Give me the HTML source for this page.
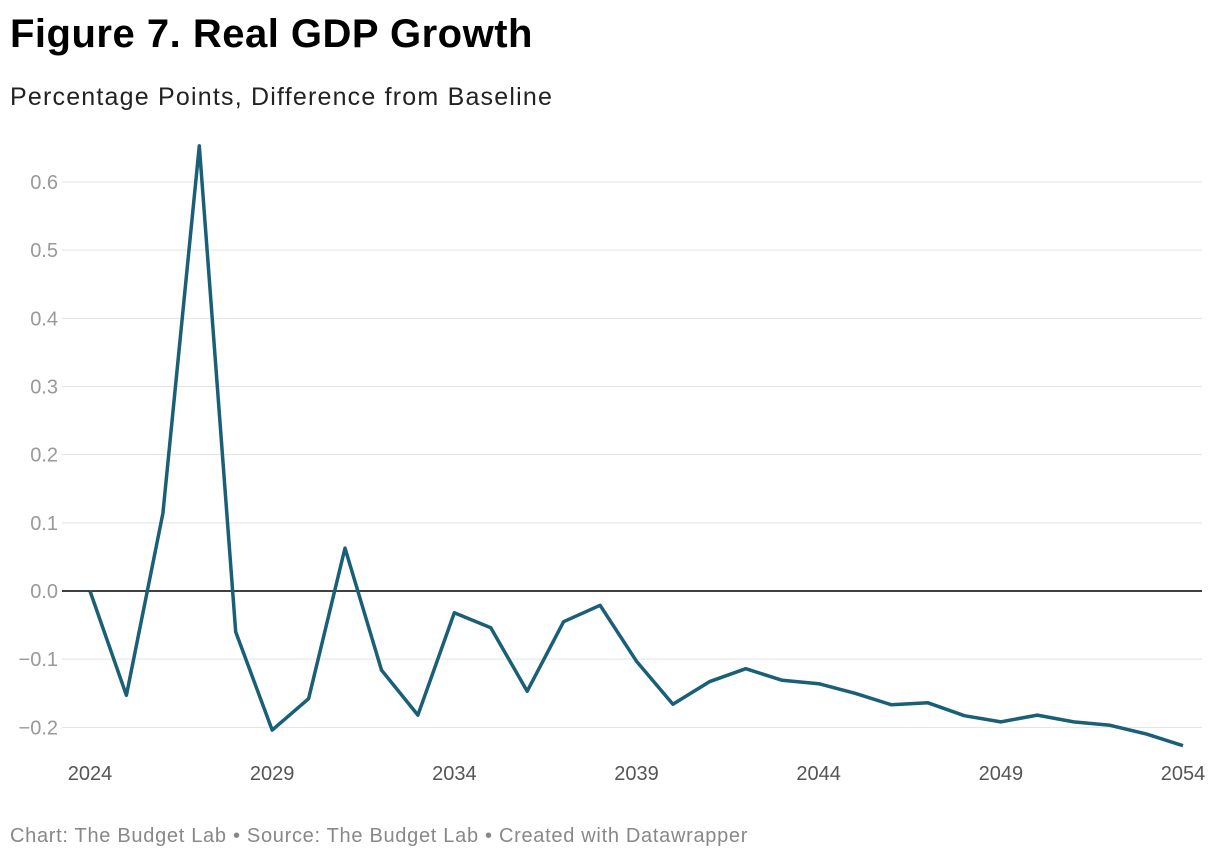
<!DOCTYPE html>
<html><head><meta charset="utf-8">
<style>
body{margin:0;background:#fff;font-family:"Liberation Sans",Arial,sans-serif;}
#wrap{position:relative;width:1220px;height:862px;overflow:hidden;}
h1{position:absolute;left:10px;top:12px;margin:0;font-size:40px;font-weight:bold;color:#000;letter-spacing:0.5px;}
.sub{position:absolute;left:10px;top:83px;font-size:25px;color:#222;letter-spacing:1.2px;}
.foot{position:absolute;left:10px;top:825px;font-size:20px;color:#888;letter-spacing:0.7px;}
svg{position:absolute;left:0;top:0;}
</style></head><body>
<div id="wrap">
<h1>Figure 7. Real GDP Growth</h1>
<div class="sub">Percentage Points, Difference from Baseline</div>
<svg id="chart" width="1220" height="862"></svg>
<div class="foot">Chart: The Budget Lab • Source: The Budget Lab • Created with Datawrapper</div>
</div>
<script>
const years=[2024,2025,2026,2027,2028,2029,2030,2031,2032,2033,2034,2035,2036,2037,2038,2039,2040,2041,2042,2043,2044,2045,2046,2047,2048,2049,2050,2051,2052,2053,2054];
const values=[0,-0.153,0.114,0.653,-0.06,-0.204,-0.158,0.063,-0.116,-0.182,-0.032,-0.054,-0.147,-0.045,-0.021,-0.103,-0.166,-0.133,-0.114,-0.131,-0.136,-0.15,-0.167,-0.164,-0.183,-0.192,-0.182,-0.192,-0.197,-0.21,-0.227];
const yTicks=[0.6,0.5,0.4,0.3,0.2,0.1,0,-0.1,-0.2];
const yTickLabels=["0.6","0.5","0.4","0.3","0.2","0.1","0.0","\u22120.1","\u22120.2"];
const xTicks=[2024,2029,2034,2039,2044,2049,2054];

const svg=document.getElementById('chart');
const NS='http://www.w3.org/2000/svg';
const x=v=>90+(v-2024)*(1183-90)/30;
const y=v=>591-v*(591-182)/0.6;
function mk(t,a){const e=document.createElementNS(NS,t);for(const k in a)e.setAttribute(k,a[k]);svg.appendChild(e);return e;}
yTicks.forEach((t,i)=>{
  const g=mk('line',{x1:62,x2:1202,y1:y(t),y2:y(t),stroke:t===0?'#000':'#e3e3e3','stroke-width':t===0?1.5:1});
  
  
  const l=mk('text',{x:58,y:y(t)+7,'text-anchor':'end','font-size':20,fill:'#999','font-family':'Liberation Sans, sans-serif'});
  l.textContent=yTickLabels[i];
  
  
});
xTicks.forEach(t=>{
  const l=mk('text',{x:x(t),y:780,'text-anchor':'middle','font-size':20,fill:'#555','font-family':'Liberation Sans, sans-serif'});
  l.textContent=t;
  
  
});
const d=years.map((yr,i)=>(i?'L':'M')+x(yr).toFixed(1)+','+y(values[i]).toFixed(1)).join(' ');
const p=mk('path',{d:d,fill:'none',stroke:'#1a5f78','stroke-width':3.5,'stroke-linejoin':'round'});


</script>
</body></html>
